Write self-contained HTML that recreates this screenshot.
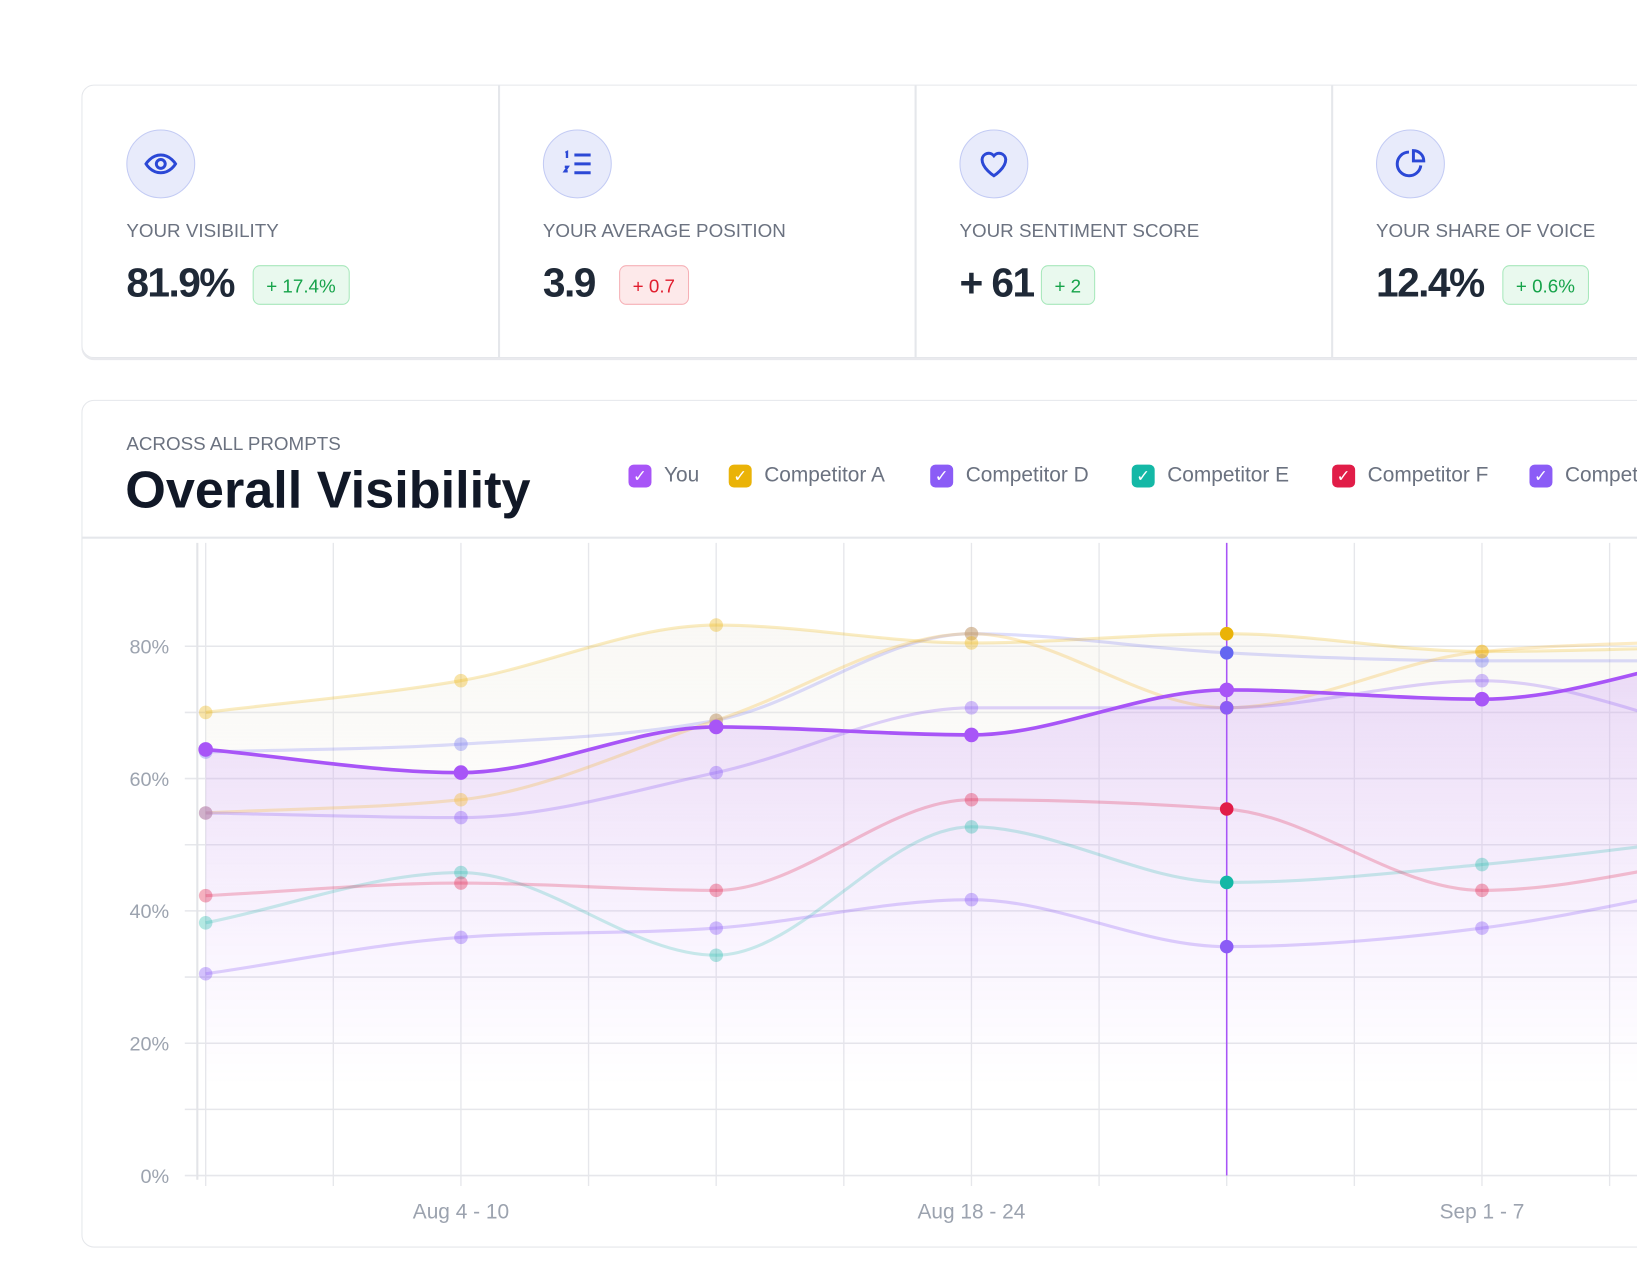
<!DOCTYPE html>
<html><head><meta charset="utf-8">
<style>
html,body{margin:0;padding:0;background:#fff;width:1637px;height:1275px;overflow:hidden;font-family:"Liberation Sans",sans-serif;}
#wrap{position:absolute;left:0;top:0;width:1568px;height:1221px;transform:scale(1.04401);transform-origin:0 0;overflow:hidden;}
.abs{position:absolute;}
.cards{left:78px;top:81px;width:1600px;height:260px;border:1.5px solid #e5e7eb;border-radius:12px;box-shadow:0 2px 0 #e8e9ed;}
.card{position:absolute;top:0;height:260px;width:398px;}
.div{position:absolute;top:0;width:1.5px;height:260px;background:#e5e7eb;}
.icon{position:absolute;left:42px;top:42px;width:66px;height:66px;border-radius:50%;background:#e8ebfb;border:1.5px solid #c3cbf4;box-sizing:border-box;display:flex;align-items:center;justify-content:center;}
.lbl{position:absolute;left:42px;top:129px;font-size:18px;color:#6b7280;letter-spacing:0;white-space:nowrap;}
.val{position:absolute;left:42px;top:168px;font-size:39px;font-weight:bold;color:#1f2937;letter-spacing:-1.5px;white-space:nowrap;}
.badge{position:absolute;top:172px;height:38px;border-radius:7px;font-size:18px;line-height:38px;padding:0 12px;box-sizing:border-box;white-space:nowrap;}
.g{background:#e9f9ee;border:1.5px solid #a7e8bb;color:#16a34a;}
.r{background:#fde9ea;border:1.5px solid #f6b0b6;color:#e11d2e;}
.chartcard{left:78px;top:383px;width:1600px;height:810px;border:1.5px solid #e5e7eb;border-radius:12px;}
.leg{position:absolute;top:444px;font-size:20px;color:#6b7280;white-space:nowrap;display:flex;align-items:center;}
.cb{width:22px;height:22px;border-radius:5px;margin-right:12px;display:inline-flex;align-items:center;justify-content:center;color:#fff;font-size:16px;}
</style></head><body>
<div id="wrap">
<div class="abs cards">
  <div class="card" style="left:0">
    <div class="icon"><svg width="34" height="34" viewBox="0 0 24 24" fill="none" stroke="#2b48d6" stroke-width="2"><path d="M2 12s3.5-6 10-6 10 6 10 6-3.5 6-10 6S2 12 2 12z"/><circle cx="12" cy="12" r="3"/></svg></div>
    <div class="lbl">YOUR VISIBILITY</div>
    <div class="val">81.9%</div>
    <div class="badge g" style="left:163px">+ 17.4%</div>
  </div>
  <div class="div" style="left:398px"></div>
  <div class="card" style="left:399px">
    <div class="icon"><svg width="34" height="34" viewBox="0 0 24 24" fill="none" stroke="#2b48d6" stroke-width="2"><path d="M10 6h11M10 12h11M10 18h11"/><path d="M4 4.5l1-.5v4" stroke-width="1.6"/><path d="M3.5 14h2l-2 3h2" stroke-width="1.6"/></svg></div>
    <div class="lbl">YOUR AVERAGE POSITION</div>
    <div class="val">3.9</div>
    <div class="badge r" style="left:115px">+ 0.7</div>
  </div>
  <div class="div" style="left:797px"></div>
  <div class="card" style="left:798px">
    <div class="icon"><svg width="34" height="34" viewBox="0 0 24 24" fill="none" stroke="#2b48d6" stroke-width="2"><path d="M12 20s-8-5-8-11a4.5 4.5 0 0 1 8-2.5A4.5 4.5 0 0 1 20 9c0 6-8 11-8 11z"/></svg></div>
    <div class="lbl">YOUR SENTIMENT SCORE</div>
    <div class="val">+ 61</div>
    <div class="badge g" style="left:120px">+ 2</div>
  </div>
  <div class="div" style="left:1196px"></div>
  <div class="card" style="left:1197px">
    <div class="icon"><svg width="34" height="34" viewBox="0 0 24 24" fill="none" stroke="#2b48d6" stroke-width="2"><path d="M11 4a8 8 0 1 0 8 9"/><path d="M14 3v7h7a7 7 0 0 0-7-7z"/></svg></div>
    <div class="lbl">YOUR SHARE OF VOICE</div>
    <div class="val">12.4%</div>
    <div class="badge g" style="left:163px">+ 0.6%</div>
  </div>
</div>

<div class="abs chartcard"></div>
<div class="abs" style="left:79px;top:514px;width:1600px;height:1.5px;background:#e5e7eb"></div>
<div class="abs" style="left:121px;top:415px;font-size:18px;color:#6b7280;white-space:nowrap">ACROSS ALL PROMPTS</div>
<div class="abs" style="left:120px;top:440px;font-size:50px;font-weight:bold;color:#111827;white-space:nowrap;letter-spacing:0">Overall Visibility</div>

<div class="leg" style="left:602px"><span class="cb" style="background:#a855f7">✓</span>You</div>
<div class="leg" style="left:698px"><span class="cb" style="background:#eab308">✓</span>Competitor A</div>
<div class="leg" style="left:891px"><span class="cb" style="background:#8b5cf6">✓</span>Competitor D</div>
<div class="leg" style="left:1084px"><span class="cb" style="background:#14b8a6">✓</span>Competitor E</div>
<div class="leg" style="left:1276px"><span class="cb" style="background:#e11d48">✓</span>Competitor F</div>
<div class="leg" style="left:1465px"><span class="cb" style="background:#8b5cf6">✓</span>Competitor G</div>

<svg class="abs" style="left:0;top:0" width="1568" height="1221" id="chart">
  <defs>
    <linearGradient id="youFill" x1="0" y1="600" x2="0" y2="1040" gradientUnits="userSpaceOnUse">
      <stop offset="0" stop-color="#a855f7" stop-opacity="0.2"/>
      <stop offset="1" stop-color="#a855f7" stop-opacity="0"/>
    </linearGradient>
    <linearGradient id="aFill" x1="0" y1="600" x2="0" y2="900" gradientUnits="userSpaceOnUse">
      <stop offset="0" stop-color="#efece2" stop-opacity="0.35"/>
      <stop offset="1" stop-color="#efece2" stop-opacity="0"/>
    </linearGradient>
    <clipPath id="plotClip"><rect x="80" y="516" width="1600" height="620"/></clipPath>
  </defs>
  <g id="grid"></g>
  <g id="areas" clip-path="url(#plotClip)"></g>
  <g id="lines" clip-path="url(#plotClip)"></g>
  <g id="dots"></g>
  <g id="axis"></g>
</svg>
</div>
<script>
const categories = ["Jul 28 - Aug 3","Aug 4 - 10","Aug 11 - 17","Aug 18 - 24","Aug 25 - 31","Sep 1 - 7","Sep 8 - 14"];
const youValues   = [64.4, 60.9, 67.8, 66.6, 73.4, 72.0, 79.5];
const compAValues = [70.0, 74.8, 83.2, 80.5, 81.9, 79.2, 80.0];
const compBValues = [64.0, 65.2, 68.8, 81.9, 79.0, 77.8, 77.8];
const compCValues = [54.8, 56.8, 68.8, 81.9, 70.7, 79.2, 81.0];
const compDValues = [54.8, 54.1, 60.9, 70.7, 70.7, 74.8, 66.0];
const compEValues = [38.2, 45.8, 33.3, 52.7, 44.3, 47.0, 51.5];
const compFValues = [42.3, 44.2, 43.1, 56.8, 55.4, 43.1, 48.5];
const compGValues = [30.5, 36.0, 37.4, 41.7, 34.6, 37.4, 44.5];
const yTicks = [0, 20, 40, 60, 80];
const xTickLabels = ["Aug 4 - 10", "Aug 18 - 24", "Sep 1 - 7"];
const xTickIndex = [1, 3, 5];
const activeIndex = 4;

const NS = "http://www.w3.org/2000/svg";
const X0 = 197, XSTEP = 244.5, Y0 = 1126, YPER = 6.3375;
function xScale(i){ return X0 + i*XSTEP; }
function yScale(v){ return Y0 - v*YPER; }
function mk(tag, attrs, parent){ const e=document.createElementNS(NS,tag); for(const k in attrs) e.setAttribute(k,attrs[k]); parent.appendChild(e); return e; }

function monotonePath(pts){
  const n=pts.length; const dx=[],dy=[],m=[];
  for(let i=0;i<n-1;i++){dx.push(pts[i+1][0]-pts[i][0]);dy.push(pts[i+1][1]-pts[i][1]);m.push(dy[i]/dx[i]);}
  const t=[m[0]];
  for(let i=1;i<n-1;i++){ if(m[i-1]*m[i]<=0) t.push(0); else { const s=(m[i-1]*dx[i]+m[i]*dx[i-1])/(dx[i]+dx[i-1]); t.push(Math.sign(s)*Math.min(2*Math.abs(m[i-1]),2*Math.abs(m[i]),Math.abs(s)));} }
  t.push(m[n-2]);
  let d="M"+pts[0][0]+","+pts[0][1];
  for(let i=0;i<n-1;i++){ const h=dx[i]/3;
    d+=" C"+(pts[i][0]+h)+","+(pts[i][1]+t[i]*h)+" "+(pts[i+1][0]-h)+","+(pts[i+1][1]-t[i+1]*h)+" "+pts[i+1][0]+","+pts[i+1][1]; }
  return d;
}

const grid=document.getElementById('grid'), axis=document.getElementById('axis');
for(let v=0; v<=80; v+=10){
  const gl=mk('line',{x1:177,x2:1680,y1:yScale(v),y2:yScale(v),stroke:'#e6e7eb','stroke-width':1.5},grid);
  
  
}
for(let k=0;k<=14;k++){
  const x=X0+k*XSTEP/2;
  const vl=mk('line',{x1:x,x2:x,y1:520,y2:1136,stroke:'#e6e7eb','stroke-width':1.3},grid);
  
  
}
const yax=mk('line',{x1:189,x2:189,y1:520,y2:1130,stroke:'#e3e4e8','stroke-width':2},grid);


yTicks.forEach(v=>{
  const t=mk('text',{x:162,y:yScale(v)+7,'text-anchor':'end','font-size':19,fill:'#9ca3af','font-family':'Liberation Sans, sans-serif'},axis);
  t.textContent=v+'%';
  
  
});
xTickLabels.forEach((lab,j)=>{
  const t=mk('text',{x:xScale(xTickIndex[j]),y:1167,'text-anchor':'middle','font-size':20,fill:'#9ca3af','font-family':'Liberation Sans, sans-serif'},axis);
  t.textContent=lab;
  
  
});

const series=[
  {name:'competitor-b',vals:compBValues,color:'#6366f1',op:0.22},
  {name:'competitor-c',vals:compCValues,color:'#f5b82e',op:0.28},
  {name:'competitor-a',vals:compAValues,color:'#eab308',op:0.25},
  {name:'competitor-d',vals:compDValues,color:'#8b5cf6',op:0.28},
  {name:'competitor-e',vals:compEValues,color:'#14b8a6',op:0.22},
  {name:'competitor-f',vals:compFValues,color:'#e11d48',op:0.25},
  {name:'competitor-g',vals:compGValues,color:'#8b5cf6',op:0.28},
  {name:'you',vals:youValues,color:'#a855f7',op:1}
];
const areas=document.getElementById('areas'), lines=document.getElementById('lines'), dots=document.getElementById('dots');
{
  const pts=compAValues.map((v,i)=>[xScale(i),yScale(v)]);
  const a=mk('path',{d:monotonePath(pts)+` L${xScale(compAValues.length-1)},${Y0} L${X0},${Y0} Z`,fill:'url(#aFill)'},areas);
  
  
  const pts2=youValues.map((v,i)=>[xScale(i),yScale(v)]);
  const b=mk('path',{d:monotonePath(pts2)+` L${xScale(youValues.length-1)},${Y0} L${X0},${Y0} Z`,fill:'url(#youFill)'},areas);
  
  
}
const hover=mk('line',{x1:xScale(activeIndex),x2:xScale(activeIndex),y1:520,y2:1126,stroke:'#a855f7','stroke-width':1.5},lines);


series.forEach(s=>{
  const pts=s.vals.map((v,i)=>[xScale(i),yScale(v)]);
  const p=mk('path',{d:monotonePath(pts),fill:'none',stroke:s.color,'stroke-width':s.name==='you'?3.5:3,'stroke-opacity':s.op},lines);
  
  
  s.vals.forEach((v,i)=>{
    if(xScale(i)>1570) return;
    const active=i===activeIndex;
    const c=mk('circle',{cx:xScale(i),cy:yScale(v),r:s.name==='you'?7:6.5,fill:s.color,'fill-opacity':active||s.name==='you'?1:Math.min(1,s.op+0.1)},dots);
    
    
  });
});
</script>
</body></html>
